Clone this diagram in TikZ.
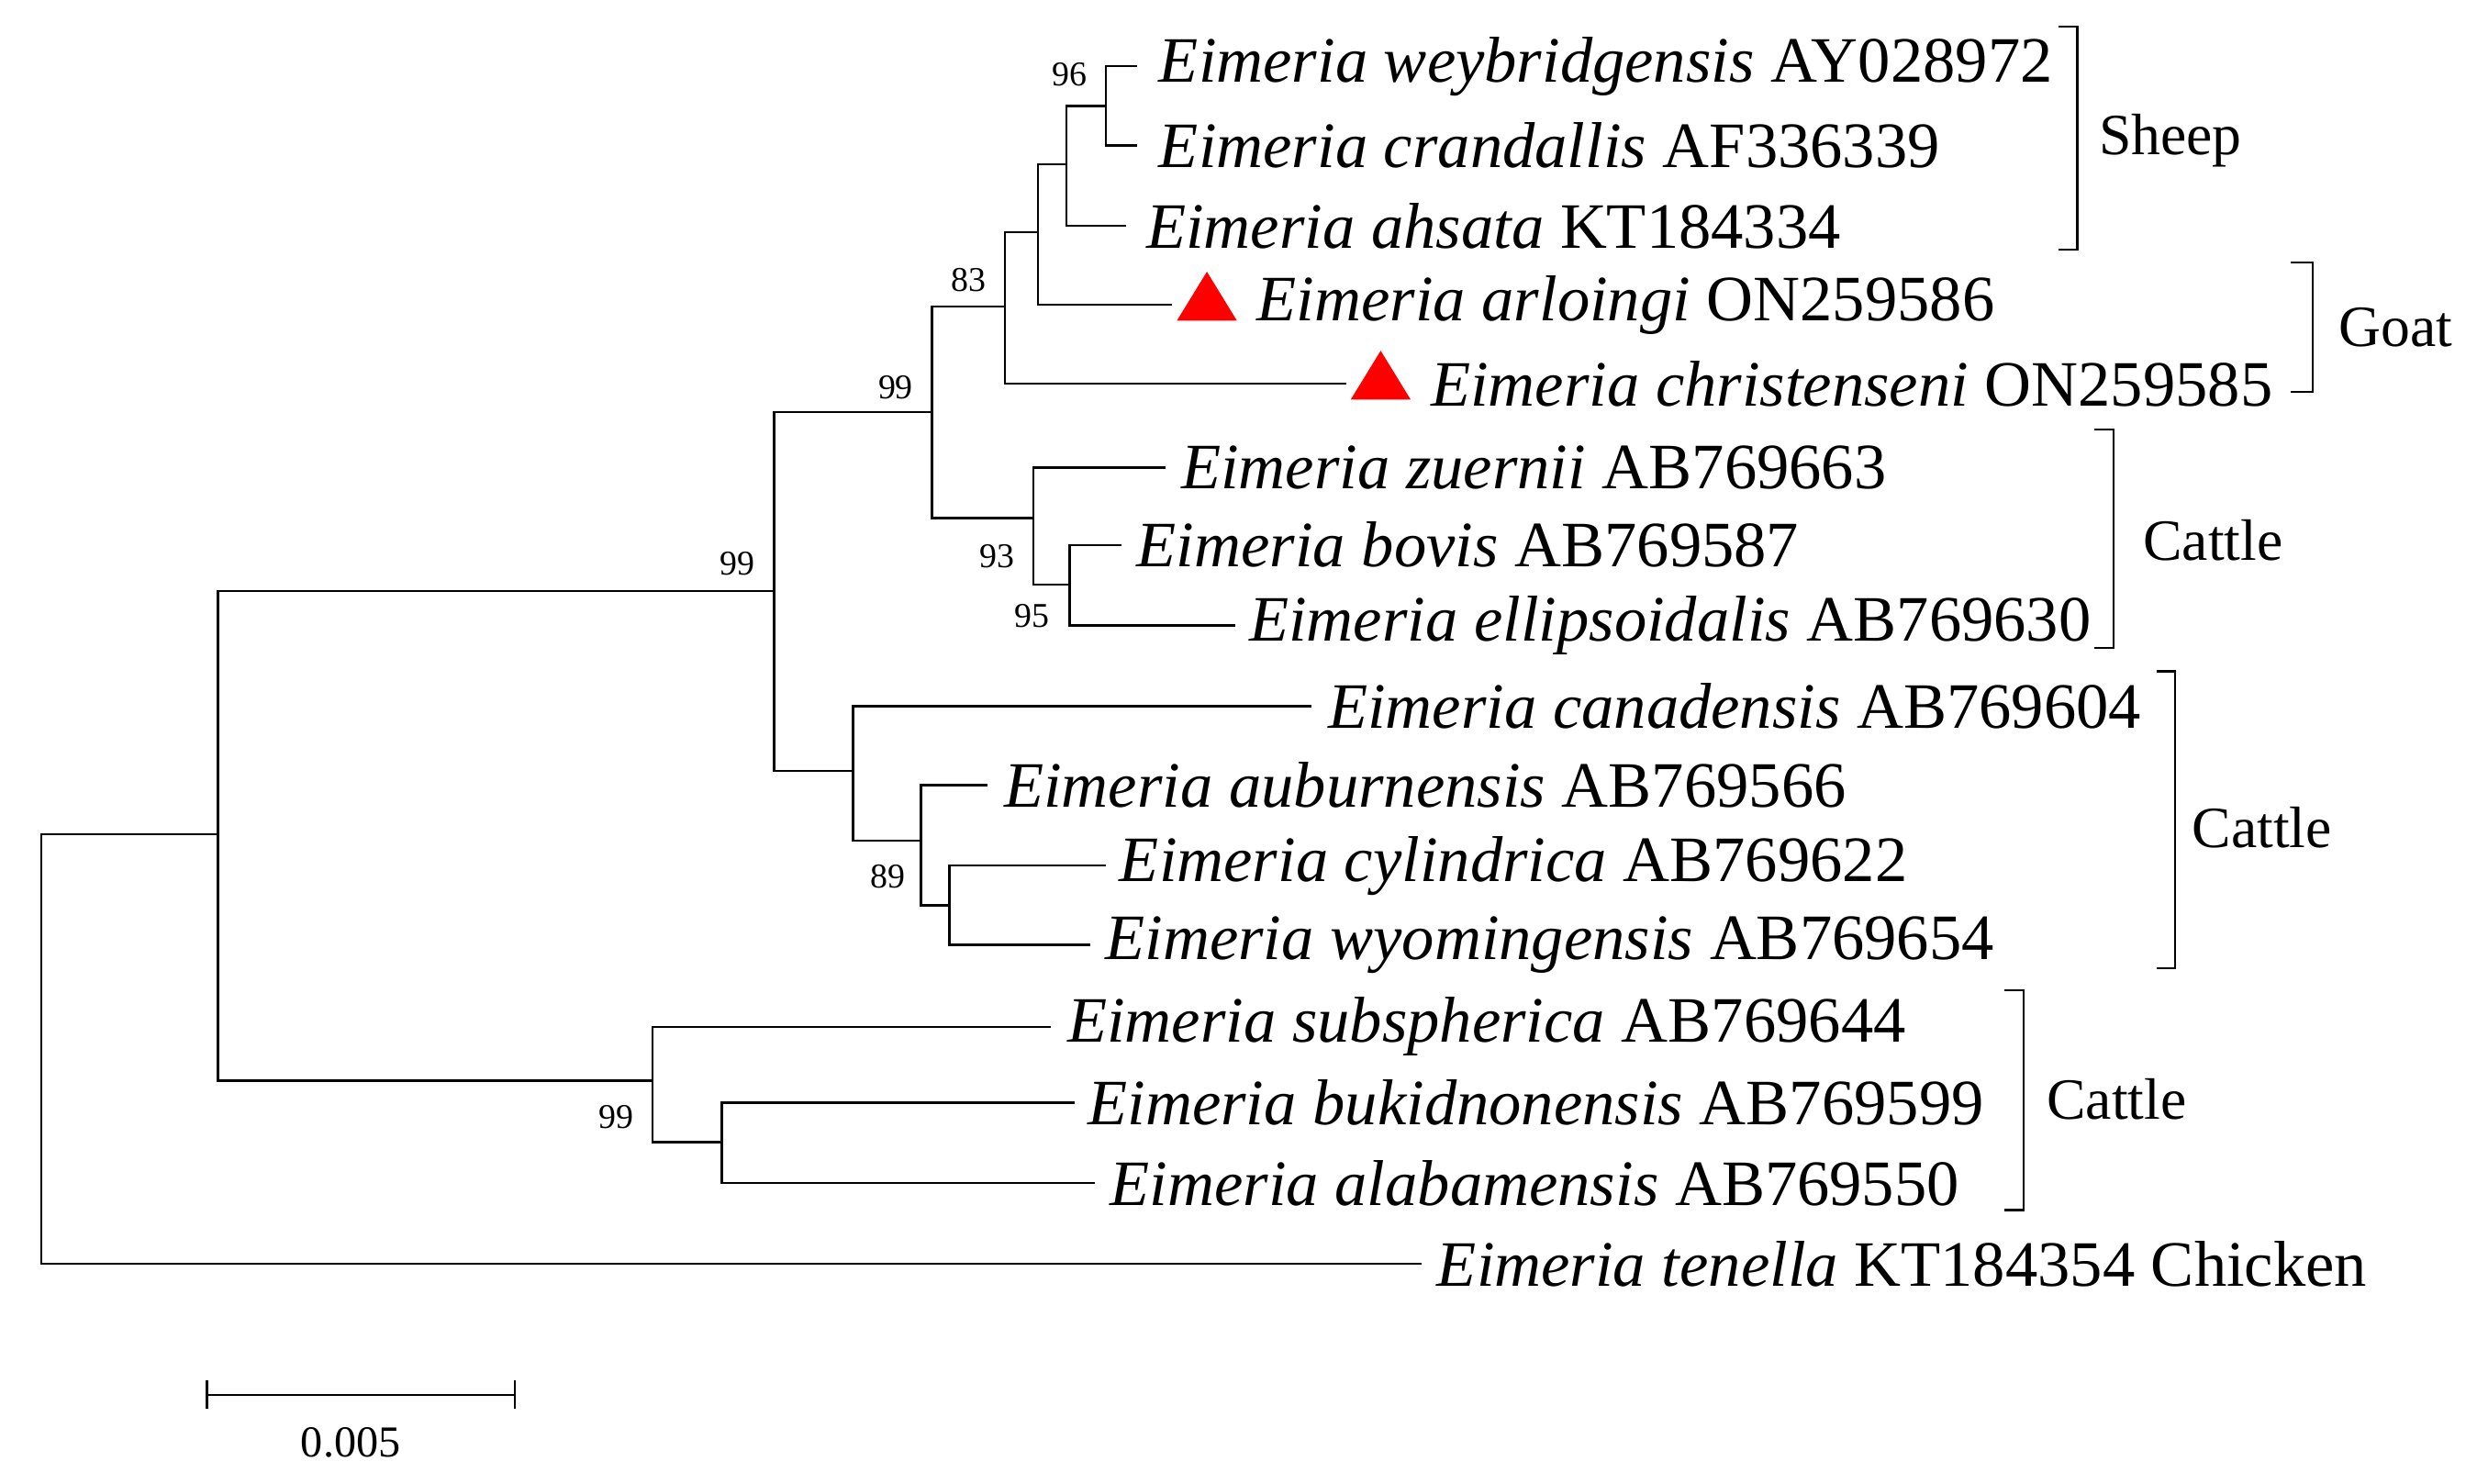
\documentclass[tikz,border=0pt]{standalone}
\usepackage{fontspec}
\setmainfont{Liberation Serif}
\begin{document}
\begin{tikzpicture}[x=1pt,y=-1pt,line width=1.4pt,
 lab/.style={anchor=west,inner sep=0pt,font=\fontsize{41}{44}\selectfont},
 bs/.style={inner sep=0pt,font=\fontsize{22}{24}\selectfont},
 grp/.style={anchor=west,inner sep=0pt,font=\fontsize{37}{40}\selectfont},
 tri/.style={fill=red,draw=none}]
\useasboundingbox (0,0) rectangle (1568,939);
% leaves
\coordinate (l1) at (720,42); \coordinate (l2) at (720,92); \coordinate (l3) at (713,143);
\coordinate (l4) at (742,193); \coordinate (l5) at (852,243); \coordinate (l6) at (738,296);
\coordinate (l7) at (710,345); \coordinate (l8) at (782,396); \coordinate (l9) at (830,447);
\coordinate (l10) at (625,497); \coordinate (l11) at (700,548); \coordinate (l12) at (690,598);
\coordinate (l13) at (665,650); \coordinate (l14) at (680,698); \coordinate (l15) at (693,749);
\coordinate (l16) at (900,800);
% internal
\coordinate (n1) at (700,67); \coordinate (n2) at (675,104); \coordinate (n3) at (657,147);
\coordinate (n4) at (636,194); \coordinate (n6) at (677,370); \coordinate (n5) at (654,328);
\coordinate (n7) at (590,261); \coordinate (n8) at (601,573); \coordinate (n9) at (583,532);
\coordinate (n10) at (540,488); \coordinate (n11) at (490,374); \coordinate (n12) at (457,723);
\coordinate (n13) at (413,684); \coordinate (n14) at (138,528); \coordinate (root) at (26,528);
\newcommand{\jn}[3]{\draw (#2) -| (#1 |- #2) |- (#3);}
\jn{n1}{l1}{l2}
\jn{n2}{n1}{l3}
\jn{n3}{n2}{l4}
\jn{n4}{n3}{l5}
\jn{n6}{l7}{l8}
\jn{n5}{l6}{n6}
\jn{n7}{n4}{n5}
\jn{n8}{l11}{l12}
\jn{n9}{l10}{n8}
\jn{n10}{l9}{n9}
\jn{n11}{n7}{n10}
\jn{n12}{l14}{l15}
\jn{n13}{l13}{n12}
\jn{n14}{n11}{n13}
\jn{root}{n14}{l16}
% bootstrap
\node[bs] (b1) at (677,47) {96};
\node[bs] (b2) at (613,177) {83};
\node[bs] (b3) at (567,245) {99};
\node[bs] (b4) at (631,352) {93};
\node[bs] (b5) at (653,390) {95};
\node[bs] (b6) at (467,357) {99};
\node[bs] (b7) at (562,555) {89};
\node[bs] (b8) at (390,707) {99};
% triangles
\fill[tri] (745,203) -- (764,172) -- (783,203) -- cycle;
\fill[tri] (855,253) -- (874,222) -- (893,253) -- cycle;
% labels
\node[lab] (t1) at (733,42) {\textit{Eimeria weybridgensis} AY028972};
\node[lab] (t2) at (733,92) {\textit{Eimeria crandallis} AF336339};
\node[lab] (t3) at (725,143) {\textit{Eimeria ahsata} KT184334};
\node[lab] (t4) at (795,193) {\textit{Eimeria arloingi} ON259586};
\node[lab] (t5) at (905,243) {\textit{Eimeria christenseni} ON259585};
\node[lab] (t6) at (747,296) {\textit{Eimeria zuernii} AB769663};
\node[lab] (t7) at (719,345) {\textit{Eimeria bovis} AB769587};
\node[lab] (t8) at (790,396) {\textit{Eimeria ellipsoidalis} AB769630};
\node[lab] (t9) at (840,447) {\textit{Eimeria canadensis} AB769604};
\node[lab] (t10) at (635,497) {\textit{Eimeria auburnensis} AB769566};
\node[lab] (t11) at (708,548) {\textit{Eimeria cylindrica} AB769622};
\node[lab] (t12) at (699,598) {\textit{Eimeria wyomingensis} AB769654};
\node[lab] (t13) at (675,650) {\textit{Eimeria subspherica} AB769644};
\node[lab] (t14) at (688,698) {\textit{Eimeria bukidnonensis} AB769599};
\node[lab] (t15) at (702,749) {\textit{Eimeria alabamensis} AB769550};
\node[lab] (t16) at (909,800) {\textit{Eimeria tenella} KT184354 Chicken};
% groups
\draw (1303,17) -- (1315,17) -- (1315,158) -- (1303,158);
\node[grp] (g1) at (1328,89) {Sheep};
\draw (1450,166) -- (1464,166) -- (1464,248) -- (1450,248);
\node[grp] (g2) at (1480,207) {Goat};
\draw (1326,272) -- (1338,272) -- (1338,410) -- (1326,410);
\node[grp] (g3) at (1356,342) {Cattle};
\draw (1365,425) -- (1377,425) -- (1377,613) -- (1365,613);
\node[grp] (g4) at (1387,524) {Cattle};
\draw (1269,627) -- (1281,627) -- (1281,766) -- (1269,766);
\node[grp] (g5) at (1295,696) {Cattle};
% scale
\coordinate (s1) at (131,883); \coordinate (s2) at (326,883);
\draw (s1) -- (s2); \draw (131,874) -- (131,892); \draw (326,874) -- (326,892);
\node[inner sep=0pt,font=\fontsize{28}{30}\selectfont] (sc) at (222,913) {0.005};
\end{tikzpicture}
\end{document}
